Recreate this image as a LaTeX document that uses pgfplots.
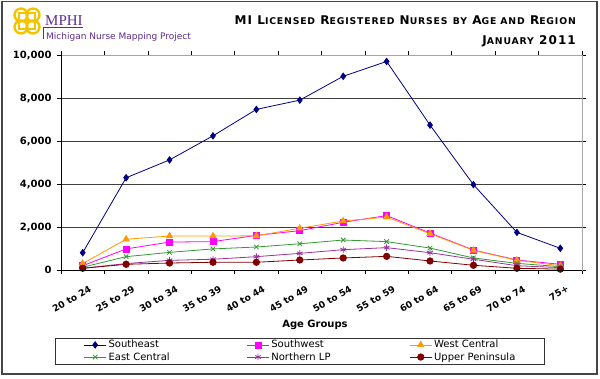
\documentclass[border=0pt]{standalone}
\usepackage{pgfplots}
\pgfplotsset{compat=1.18}
\usepackage{fontspec}
\setmainfont{DejaVu Sans}
\newfontfamily\seriffont{Liberation Serif}
\newfontfamily\titlefont[LetterSpace=9]{DejaVu Sans}
\definecolor{cSE}{HTML}{000080}
\definecolor{cSW}{HTML}{FF00FF}
\definecolor{cWC}{HTML}{FF9900}
\definecolor{cEC}{HTML}{339933}
\definecolor{cNL}{HTML}{993399}
\definecolor{cUP}{HTML}{800000}
\definecolor{mphi}{HTML}{5C2D91}
\definecolor{logoY}{HTML}{F5C400}
\newcommand\sC[1]{{\fontsize{9.3}{11}\selectfont\MakeUppercase{#1}}}
\begin{document}
\begin{tikzpicture}
\useasboundingbox (0,0) rectangle (600pt,-378pt);
\fill[white] (0,0) rectangle (600pt,-378pt);
\draw[gray!55!black, line width=1.6pt] (2pt,-1.5pt) rectangle (597pt,-374pt);
% logo
\begin{scope}[logoY, line width=2.4pt]
\draw (21pt,-15pt) circle (6.5pt);
\draw (33pt,-15pt) circle (6.5pt);
\draw (21pt,-27pt) circle (6.5pt);
\draw (33pt,-27pt) circle (6.5pt);
\draw[line width=1.6pt] (19pt,-13pt) rectangle (35pt,-29pt);
\draw[line width=1.2pt] (27pt,-11pt) -- (27pt,-31pt) (17pt,-21pt) -- (37pt,-21pt);
\end{scope}
\node[anchor=base west, inner sep=0pt, text=mphi, font=\seriffont\fontsize{15}{16}\selectfont] at (45pt,-25pt) {MPHI};
\draw[mphi, line width=1pt] (43pt,-27pt) -- (83pt,-27pt);
\draw[mphi, line width=1.4pt] (43.5pt,-27pt) -- (43.5pt,-39pt);
\node[anchor=base west, inner sep=0pt, text=mphi, font=\fontsize{9}{10}\selectfont] at (46pt,-39pt) {Michigan Nurse Mapping Project};
% title
\node[anchor=base east, inner sep=0pt, font=\titlefont\fontsize{12}{14}\selectfont\bfseries] at (576pt,-24pt)
  {MI L\sC{icensed} R\sC{egistered} N\sC{urses} \sC{by} A\sC{ge and} R\sC{egion}};
\node[anchor=base east, inner sep=0pt, font=\titlefont\fontsize{12}{14}\selectfont\bfseries] at (576pt,-44pt)
  {J\sC{anuary} 2011};
\begin{axis}[
  at={(61pt,-270pt)}, anchor=south west,
  scale only axis, width=521pt, height=215pt,
  xmin=-0.5, xmax=11.5, ymin=0, ymax=10000,
  xtick={0,...,11},
  xticklabels={20 to 24,25 to 29,30 to 34,35 to 39,40 to 44,45 to 49,50 to 54,55 to 59,60 to 64,65 to 69,70 to 74,75+},
  minor xtick={-0.5,0.5,...,11.5},
  major x tick style={draw=none},
  ytick={0,2000,...,10000},
  tick align=outside, major tick length=4pt, minor tick length=4pt,
  tick style={black, line width=0.6pt},
  ymajorgrids, major grid style={black!75, line width=0.7pt},
  axis line style={gray!70, line width=0.7pt},
  /pgf/number format/assume math mode=true,
  /pgf/number format/1000 sep={,},
  scaled y ticks=false,
  yticklabel style={font=\fontsize{10}{12}\selectfont\bfseries, xshift=-2pt},
  xticklabel style={font=\fontsize{9.2}{11}\selectfont\bfseries, rotate=30, anchor=north east, yshift=-9pt, xshift=3pt},
  xlabel={Age Groups},
  xlabel style={at={(axis description cs:0.4875,-0.256)}, anchor=center, font=\fontsize{10}{12}\selectfont\bfseries},
  legend columns=3,
  legend style={at={(axis description cs:0.4587,-0.3767)}, anchor=center,
    draw=black!80, line width=0.6pt, font=\fontsize{10}{12}\selectfont,
    inner xsep=28pt, inner ysep=0.5pt, row sep=-1pt, cells={anchor=west}},
  legend image code/.code={\draw[mark repeat=2,mark phase=2,#1] plot coordinates {(0pt,0pt)(11pt,0pt)(22pt,0pt)};},
  every axis plot/.append style={line width=0.8pt},
  after end axis/.code={\draw[black, line width=0.7pt] (rel axis cs:0,1) -- (rel axis cs:0,0) -- (rel axis cs:1,0);},
]
\addplot[cSE, mark=diamond*, mark size=3.2pt] coordinates {
(0,805)(1,4290)(2,5120)(3,6240)(4,7470)(5,7900)(6,9010)(7,9700)(8,6740)(9,3970)(10,1750)(11,1010)};
\addlegendentry{\makebox[136pt][l]{Southeast}}
\addplot[cSW, mark=square*, mark size=3pt] coordinates {
(0,200)(1,980)(2,1300)(3,1320)(4,1610)(5,1830)(6,2220)(7,2530)(8,1720)(9,930)(10,465)(11,265)};
\addlegendentry{\makebox[136pt][l]{Southwest}}
\addplot[cWC, mark=triangle*, mark size=3.6pt] coordinates {
(0,300)(1,1430)(2,1580)(3,1580)(4,1590)(5,1940)(6,2280)(7,2460)(8,1690)(9,915)(10,450)(11,200)};
\addlegendentry{\makebox[80pt][l]{West Central}}
\addplot[cEC, mark=x, mark size=3.2pt, mark options={line width=0.8pt}] coordinates {
(0,130)(1,620)(2,820)(3,980)(4,1070)(5,1220)(6,1395)(7,1320)(8,1020)(9,560)(10,310)(11,155)};
\addlegendentry{\makebox[136pt][l]{East Central}}
\addplot[cNL, mark=asterisk, mark size=3.2pt, mark options={line width=0.8pt}] coordinates {
(0,80)(1,300)(2,450)(3,500)(4,620)(5,775)(6,945)(7,1040)(8,805)(9,500)(10,200)(11,110)};
\addlegendentry{\makebox[136pt][l]{Northern LP}}
\addplot[cUP, mark=*, mark size=3.2pt] coordinates {
(0,80)(1,265)(2,325)(3,360)(4,360)(5,465)(6,560)(7,635)(8,420)(9,220)(10,80)(11,40)};
\addlegendentry{\makebox[80pt][l]{Upper Peninsula}}
\end{axis}
\end{tikzpicture}
\end{document}
